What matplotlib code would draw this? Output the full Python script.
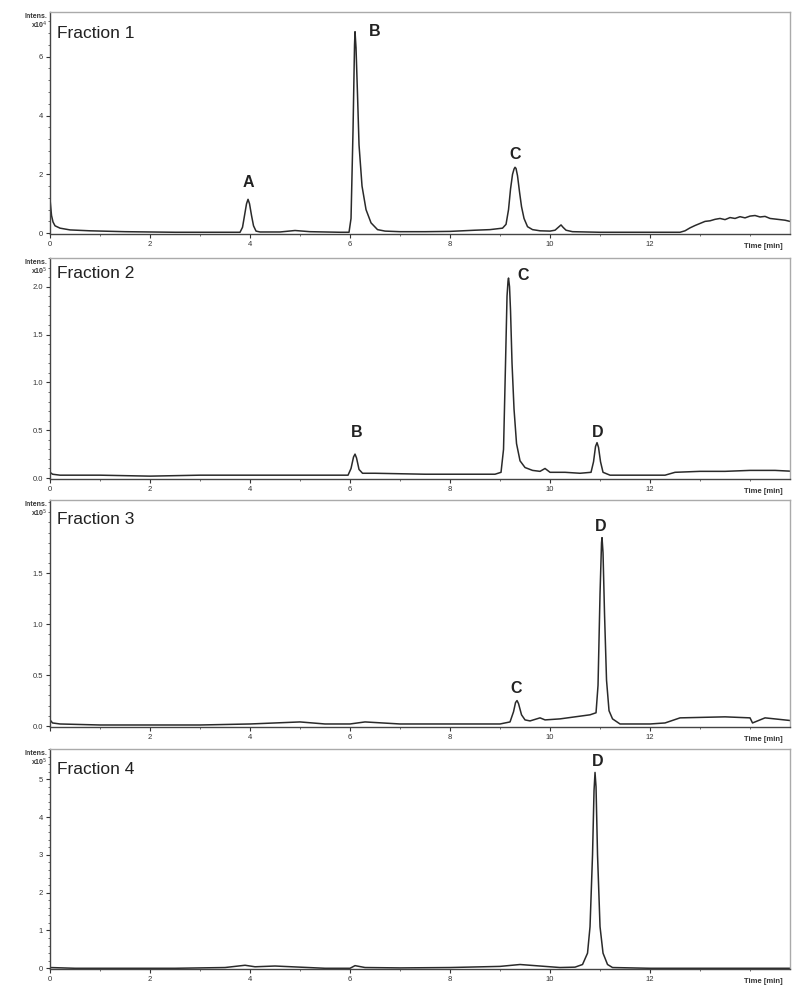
import matplotlib.pyplot as plt
from matplotlib.ticker import MultipleLocator

plt.rcParams['font.family'] = ['Liberation Sans', 'DejaVu Sans']

# Fraction 1 trace (intensity x10^4)
t1 = [0.0, 0.03, 0.06, 0.1, 0.2, 0.4, 0.8, 1.5, 2.5, 3.5, 3.8, 3.85, 3.89, 3.93, 3.96, 3.99, 4.03,
      4.07, 4.12, 4.2, 4.6, 4.9, 5.2, 5.8, 5.98, 6.02, 6.06, 6.09, 6.1, 6.12, 6.15, 6.18, 6.24,
      6.32, 6.42, 6.55, 6.7, 7.0, 7.5, 8.0, 8.5, 8.8, 9.05, 9.12, 9.17, 9.21, 9.25, 9.28, 9.3,
      9.32, 9.35, 9.39, 9.43, 9.48, 9.55, 9.65, 9.8, 10.0, 10.1, 10.18, 10.22, 10.26, 10.32,
      10.45, 11.0, 12.0, 12.6, 12.7, 12.8, 12.9, 13.0, 13.1, 13.2, 13.3, 13.4, 13.5, 13.6, 13.7,
      13.8, 13.9, 14.0, 14.1, 14.2, 14.3, 14.4, 14.5, 14.6, 14.7, 14.8, 14.88]
y1 = [1.15, 0.6, 0.38, 0.25, 0.17, 0.11, 0.08, 0.05, 0.03, 0.03, 0.03, 0.2, 0.6, 1.0, 1.15, 1.0, 0.6,
      0.25, 0.07, 0.04, 0.04, 0.09, 0.05, 0.03, 0.03, 0.5, 3.5, 6.4, 6.85, 6.3, 4.7, 3.0, 1.6,
      0.8, 0.35, 0.12, 0.07, 0.05, 0.05, 0.06, 0.1, 0.12, 0.17, 0.3, 0.8, 1.5, 2.0, 2.18, 2.24,
      2.2, 1.95, 1.4, 0.9, 0.5, 0.22, 0.12, 0.08, 0.07, 0.1, 0.22, 0.28, 0.2, 0.1,
      0.05, 0.03, 0.03, 0.03, 0.08, 0.18, 0.26, 0.33, 0.4, 0.42, 0.47, 0.5, 0.46, 0.53, 0.5,
      0.56, 0.52, 0.58, 0.6, 0.55, 0.57, 0.5, 0.48, 0.46, 0.44, 0.4, 0.42]

# Fraction 2 trace (intensity x10^5)
t2 = [0.0, 0.05, 0.2, 1.0, 2.0, 3.0, 4.0, 5.0, 5.96, 6.02, 6.07, 6.1, 6.13, 6.18, 6.25, 6.5, 7.5,
      8.5, 8.9, 9.02, 9.07, 9.11, 9.14, 9.16, 9.17, 9.19, 9.21, 9.24, 9.28, 9.33, 9.4, 9.5, 9.65,
      9.8, 9.9, 10.0, 10.3, 10.6, 10.82, 10.87, 10.91, 10.94, 10.97, 11.01, 11.06, 11.2, 12.0,
      12.3, 12.5, 13.0, 13.5, 14.0, 14.5, 14.88]
y2 = [0.06, 0.04, 0.03, 0.03, 0.02, 0.03, 0.03, 0.03, 0.03, 0.1, 0.22, 0.25, 0.21, 0.09, 0.05, 0.05, 0.04,
      0.04, 0.04, 0.06, 0.3, 1.2, 1.9, 2.06, 2.09, 2.0, 1.75, 1.2, 0.72, 0.36, 0.18, 0.11, 0.08,
      0.07, 0.1, 0.06, 0.06, 0.05, 0.06, 0.17, 0.33, 0.37, 0.32, 0.17, 0.06, 0.03, 0.03,
      0.03, 0.06, 0.07, 0.07, 0.08, 0.08, 0.07]

# Fraction 3 trace (intensity x10^5)
t3 = [0.0, 0.05, 0.2, 1.0, 2.0, 3.0, 4.0, 5.0, 5.5, 6.0, 6.3, 7.0, 8.0, 9.0, 9.2, 9.27, 9.31,
      9.34, 9.37, 9.43, 9.5, 9.6, 9.8, 9.9, 10.2, 10.5, 10.8, 10.92, 10.96, 11.0, 11.03, 11.04,
      11.06, 11.09, 11.13, 11.18, 11.25, 11.4, 12.0, 12.3, 12.6, 13.5, 14.0, 14.05, 14.3, 14.88]
y3 = [0.06, 0.03, 0.02, 0.01, 0.01, 0.01, 0.02, 0.04, 0.02, 0.02, 0.04, 0.02, 0.02, 0.02, 0.04, 0.14, 0.23,
      0.25, 0.22, 0.11, 0.06, 0.05, 0.08, 0.06, 0.07, 0.09, 0.11, 0.13, 0.4, 1.3, 1.8, 1.85,
      1.7, 1.1, 0.45, 0.15, 0.07, 0.02, 0.02, 0.03, 0.08, 0.09, 0.08, 0.03, 0.08, 0.05]

# Fraction 4 trace (intensity x10^5)
t4 = [0.0, 0.5, 1.5, 2.5, 3.5, 3.9, 4.1, 4.5, 5.0, 5.5, 6.0, 6.1, 6.3, 7.0, 8.0, 9.0, 9.4,
      9.8, 10.2, 10.5, 10.65, 10.75, 10.8, 10.85, 10.88, 10.9, 10.92, 10.95, 11.0, 11.06, 11.15,
      11.25, 12.0, 13.0, 14.0, 14.88]
y4 = [0.02, 0.0, 0.0, 0.0, 0.02, 0.08, 0.04, 0.06, 0.03, 0.0, 0.0, 0.07, 0.02, 0.01, 0.02, 0.05, 0.1,
      0.06, 0.02, 0.03, 0.1, 0.4, 1.1, 3.0, 4.7, 5.18, 4.8, 3.0, 1.1, 0.4, 0.1,
      0.02, 0.0, 0.0, 0.0, 0.0]

# peak letters: (time, intensity, letter)
peaks1 = [(3.96, 1.72, 'A'), (6.5, 6.85, 'B'), (9.3, 2.68, 'C')]
peaks2 = [(6.13, 0.48, 'B'), (9.46, 2.12, 'C'), (10.96, 0.48, 'D')]
peaks3 = [(9.32, 0.37, 'C'), (11.02, 1.96, 'D')]
peaks4 = [(10.96, 5.47, 'D')]

names = ['Fraction 1', 'Fraction 2', 'Fraction 3', 'Fraction 4']
exponents = [4, 5, 5, 5]
ylims = [(-0.03, 7.52), (-0.01, 2.3), (-0.01, 2.22), (-0.02, 5.8)]
yticks = [[0, 2, 4, 6],
          [0.0, 0.5, 1.0, 1.5, 2.0],
          [0.0, 0.5, 1.0, 1.5],
          [0, 1, 2, 3, 4, 5]]
ydec = [0, 1, 1, 0]

# axes boxes in figure fraction: left, bottom, width, height
boxes = [(0.063, 0.7624, 0.932, 0.2254),
         (0.063, 0.5137, 0.932, 0.2244),
         (0.063, 0.2619, 0.932, 0.2305),
         (0.063, 0.0162, 0.932, 0.2234)]

traces = [(t1, y1), (t2, y2), (t3, y3), (t4, y4)]
peak_sets = [peaks1, peaks2, peaks3, peaks4]

fig = plt.figure(figsize=(7.94, 9.85), dpi=100)

for i in range(4):
    ax = fig.add_axes(boxes[i])
    t, y = traces[i]
    ax.plot(t, y, color='#2a2a2a', lw=1.1, solid_joinstyle='round')
    ax.set_xlim(0, 14.8)
    ax.set_ylim(*ylims[i])

    for px, py, lab in peak_sets[i]:
        ax.text(px, py, lab, ha='center', va='center', fontsize=11.5, fontweight='bold', color='#222222')

    ax.text(0.01, [0.905, 0.932, 0.916, 0.909][i], names[i], transform=ax.transAxes,
            ha='left', va='center', fontsize=12.5, color='#222222')
    ax.text(-0.003, 0.995, 'Intens.\nx10$^{%d}$' % exponents[i], transform=ax.transAxes,
            ha='right', va='top', fontsize=5, fontweight='bold', color='#333333', linespacing=1.0)
    ax.text(0.99, -0.04, 'Time [min]', transform=ax.transAxes, ha='right', va='top',
            fontsize=5.5, fontweight='bold', color='#333333')

    xt = list(range(0, 13, 2))
    ax.set_xticks(xt)
    xl = [str(v) for v in xt]
    if i == 2:
        xl[0] = ''
    ax.set_xticklabels(xl)
    ax.xaxis.set_minor_locator(MultipleLocator(1))
    yt = yticks[i]
    ax.set_yticks(yt)
    ax.set_yticklabels([('%.' + str(ydec[i]) + 'f') % v for v in yt])
    ax.yaxis.set_minor_locator(MultipleLocator((yt[1] - yt[0]) / 5))

    ax.tick_params(axis='both', which='major', direction='out', length=3, width=0.8,
                   labelsize=5.5, pad=2, colors='#333333')
    ax.tick_params(axis='both', which='minor', direction='out', length=1.5, width=0.6,
                   colors='#555555')

    for side in ['top', 'right']:
        ax.spines[side].set_color('#aaaaaa')
        ax.spines[side].set_linewidth(1.0)
    for side in ['left', 'bottom']:
        ax.spines[side].set_color('#444444')
        ax.spines[side].set_linewidth(1.0)

plt.savefig('out.png', dpi=100)
